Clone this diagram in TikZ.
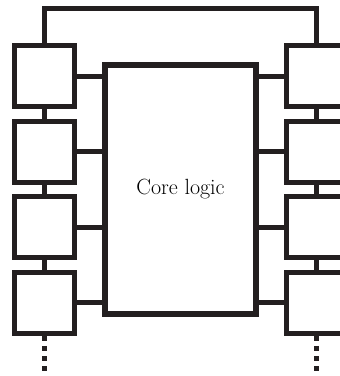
\documentclass[tikz,border=0pt]{standalone}
\usepackage{tikz}
\usepackage{xcolor}
\usetikzlibrary{positioning}

\definecolor{ink}{HTML}{231F20}

\begin{document}
\begin{tikzpicture}[x=1pt,y=-1pt,
    cell/.style={draw=ink,line width=5pt,minimum width=60pt,
        minimum height=61pt,inner sep=0pt},
    wire/.style={draw=ink,line width=5pt}]

    \useasboundingbox (0,0) rectangle (340,376);

    % core block
    \node[draw=ink,line width=6pt,minimum width=151pt,
        minimum height=249pt,inner sep=0pt]
        (core) at (180.5,189.5)
        {\fontsize{22pt}{26pt}\selectfont Core logic};

    % left column
    \node[cell] (l1) at (44.5,76) {};
    \node[cell, below=9.5pt of l1] (l2) {};
    \node[cell, below=9.5pt of l2] (l3) {};
    \node[cell, below=9.5pt of l3] (l4) {};

    % right column
    \node[cell] (r1) at (316.5,76) {};
    \node[cell, below=9.5pt of r1] (r2) {};
    \node[cell, below=9.5pt of r2] (r3) {};
    \node[cell, below=9.5pt of r3] (r4) {};

    % chain links
    \draw[wire] (l1) -- (l2);
    \draw[wire] (l2) -- (l3);
    \draw[wire] (l3) -- (l4);
    \draw[wire] (r1) -- (r2);
    \draw[wire] (r2) -- (r3);
    \draw[wire] (r3) -- (r4);

    % links to the core
    \draw[wire] (l1.east) -- (l1.east -| core.west);
    \draw[wire] (l2.east) -- (l2.east -| core.west);
    \draw[wire] (l3.east) -- (l3.east -| core.west);
    \draw[wire] (l4.east) -- (l4.east -| core.west);
    \draw[wire] (r1.west) -- (r1.west -| core.east);
    \draw[wire] (r2.west) -- (r2.west -| core.east);
    \draw[wire] (r3.west) -- (r3.west -| core.east);
    \draw[wire] (r4.west) -- (r4.west -| core.east);

    % top loop
    \coordinate (top) at (180.5,8);
    \draw[wire] (l1.north) |- (top) -| (r1.north);

    % continuation
    \coordinate (lend) at (44.5,371);
    \coordinate (rend) at (316.5,371);
    \draw[wire,dash pattern=on 5pt off 5.3pt] (l4.south) -- (lend);
    \draw[wire,dash pattern=on 5pt off 5.3pt] (r4.south) -- (rend);
\end{tikzpicture}
\end{document}
